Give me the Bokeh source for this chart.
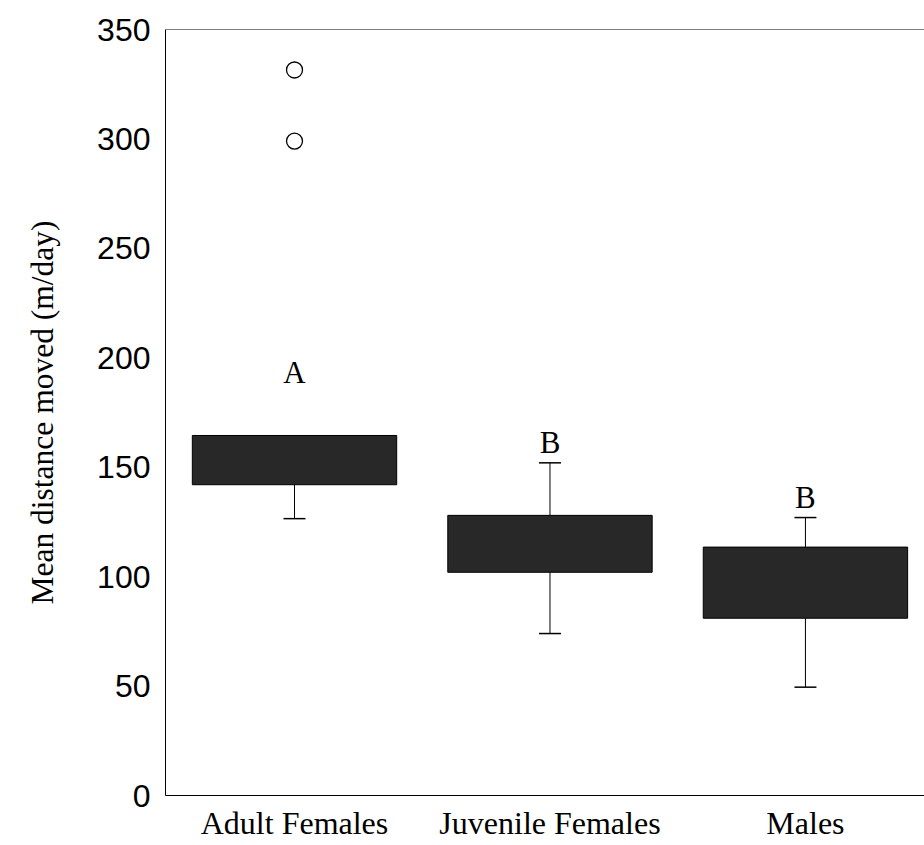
from bokeh.plotting import figure
from bokeh.models import ColumnDataSource, FixedTicker, Span
from bokeh.core.properties import value
from bokeh.embed import file_html
from bokeh.resources import INLINE

# Groups and box-plot summaries (m/day)
groups = ["Adult Females", "Juvenile Females", "Males"]
q1 = [142.0, 102.0, 81.0]
q3 = [164.5, 128.0, 113.5]
whisker_low = [126.5, 74.0, 49.5]
whisker_high = [164.5, 152.0, 127.0]
outlier_group = [0, 0]
outlier_value = [331.5, 299.0]
letters = ["A", "B", "B"]
letter_y = [193.5, 161.5, 136.0]
y_ticks = [0, 50, 100, 150, 200, 250, 300, 350]

xs = list(range(len(groups)))
box_w = 0.8
cap_half = 0.043

p = figure(width=924, height=845, output_backend="svg", toolbar_location=None,
           x_range=(-0.505, 2.466), y_range=(0, 350),
           min_border_left=165, min_border_right=0, min_border_top=29,
           min_border_bottom=50)
p.grid.visible = False
p.background_fill_color = "white"
p.border_fill_color = "white"
p.outline_line_color = None

src = ColumnDataSource(dict(x=xs, q1=q1, q3=q3, lo=whisker_low,
                            cl=[x - cap_half for x in xs], cr=[x + cap_half for x in xs],
                            lab=letters, ly=letter_y))

# upper whiskers only where they reach above the box
up = [i for i in xs if whisker_high[i] > q3[i]]
up_src = ColumnDataSource(dict(x=[xs[i] for i in up], q3=[q3[i] for i in up],
                               hi=[whisker_high[i] for i in up],
                               cl=[xs[i] - cap_half for i in up],
                               cr=[xs[i] + cap_half for i in up]))

# whisker stems and caps
p.segment(x0="x", y0="lo", x1="x", y1="q1", source=src, line_color="black", line_width=1)
p.segment(x0="cl", y0="lo", x1="cr", y1="lo", source=src, line_color="black", line_width=1.5)
p.segment(x0="x", y0="q3", x1="x", y1="hi", source=up_src, line_color="black", line_width=1)
p.segment(x0="cl", y0="hi", x1="cr", y1="hi", source=up_src, line_color="black", line_width=1.5)

# boxes
p.vbar(x="x", width=box_w, bottom="q1", top="q3", source=src,
       fill_color="#282828", line_color="black", line_width=1)

# outliers
p.scatter(x=outlier_group, y=outlier_value, size=16, marker="circle",
          fill_color="white", line_color="black", line_width=1.3)

# significance letters
p.text(x="x", y="ly", text="lab", source=src, text_align="center",
       text_baseline="middle", text_font=value("Liberation Serif"),
       text_font_size="31px", text_color="black")

# line along the top of the frame (no right-hand border)
p.add_layout(Span(location=y_ticks[-1], dimension="width", line_color="black", line_width=1))

# axes
p.yaxis.ticker = FixedTicker(ticks=y_ticks)
p.yaxis.major_label_text_font = "Liberation Sans"
p.yaxis.major_label_text_font_size = "32px"
p.yaxis.major_label_standoff = 15
p.yaxis.axis_label = "Mean distance moved (m/day)"
p.yaxis.axis_label_text_font = "Liberation Serif"
p.yaxis.axis_label_text_font_style = "normal"
p.yaxis.axis_label_text_font_size = "31.5px"
p.yaxis.axis_label_standoff = 34

p.xaxis.ticker = FixedTicker(ticks=xs)
p.xaxis.major_label_overrides = {i: g for i, g in enumerate(groups)}
p.xaxis.major_label_text_font = "Liberation Serif"
p.xaxis.major_label_text_font_size = "32px"
p.xaxis.major_label_standoff = 9

for ax in (p.xaxis[0], p.yaxis[0]):
    ax.major_tick_out = 0
    ax.major_tick_in = 0
    ax.minor_tick_out = 0
    ax.minor_tick_in = 0
    ax.axis_line_color = "black"
    ax.major_label_text_color = "black"
    ax.axis_label_text_color = "black"

open("out.html", "w").write(file_html(p, INLINE))
